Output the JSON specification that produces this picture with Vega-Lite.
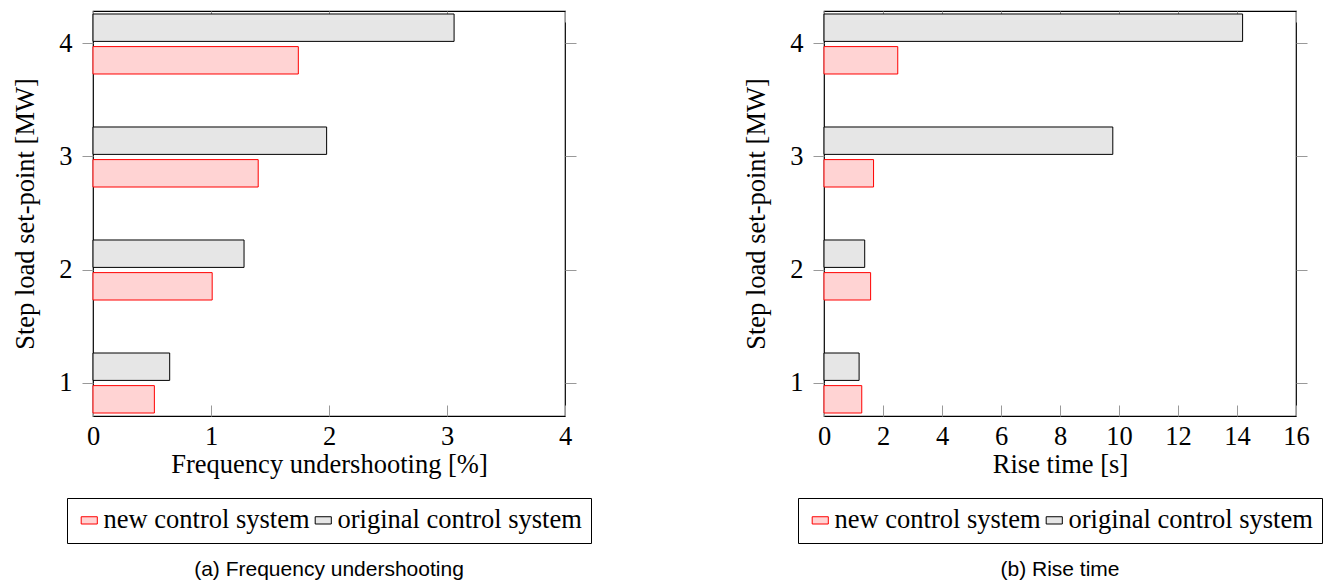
{
  "$schema": "https://vega.github.io/schema/vega-lite/v6.json",
  "padding": {"left": 12, "top": 9, "right": 5, "bottom": 0},
  "bounds": "flush",
  "spacing": 259,
  "datasets": {
    "freq": [
      {"step": 1, "system": "new control system", "value": 0.52},
      {"step": 1, "system": "original control system", "value": 0.65},
      {"step": 2, "system": "new control system", "value": 1.01},
      {"step": 2, "system": "original control system", "value": 1.28},
      {"step": 3, "system": "new control system", "value": 1.40},
      {"step": 3, "system": "original control system", "value": 1.98},
      {"step": 4, "system": "new control system", "value": 1.74},
      {"step": 4, "system": "original control system", "value": 3.06}
    ],
    "rise": [
      {"step": 1, "system": "new control system", "value": 1.28},
      {"step": 1, "system": "original control system", "value": 1.19},
      {"step": 2, "system": "new control system", "value": 1.58},
      {"step": 2, "system": "original control system", "value": 1.38},
      {"step": 3, "system": "new control system", "value": 1.68},
      {"step": 3, "system": "original control system", "value": 9.79},
      {"step": 4, "system": "new control system", "value": 2.50},
      {"step": 4, "system": "original control system", "value": 14.19}
    ]
  },
  "hconcat": [
    {
      "width": 472,
      "height": 405,
      "data": {"name": "freq"},
      "title": {"text": "(a)  Frequency undershooting"},
      "layer": [
        {
          "transform": [{"filter": "datum.system === 'original control system'"}],
          "mark": {"type": "bar", "strokeWidth": 1},
          "encoding": {
            "y": {"field": "step", "type": "ordinal", "sort": "descending", "scale": {"paddingInner": 0.469, "paddingOuter": 0.0265}, "axis": {"orient": "left", "title": "Step load set-point [MW]", "tickSize": 11, "labelPadding": 10, "titlePadding": 19}},
            "yOffset": {"field": "system", "type": "nominal", "scale": {"domain": ["original control system", "new control system"], "paddingInner": 0.16}},
            "x": {"field": "value", "type": "quantitative", "scale": {"domain": [0, 4], "nice": false}, "axis": {"orient": "bottom", "title": "Frequency undershooting [%]", "values": [0, 1, 2, 3, 4], "tickSize": -11, "labelPadding": 18, "titlePadding": 2, "labelFlush": false}},
            "fill": {"field": "system", "type": "nominal", "scale": {"domain": ["new control system", "original control system"], "range": ["#ffd3d3", "#e6e6e6"]}, "legend": {"legendX": -26, "legendY": 487}},
            "stroke": {"field": "system", "type": "nominal", "scale": {"domain": ["new control system", "original control system"], "range": ["#ff0000", "#000000"]}, "legend": {"legendX": -26, "legendY": 487}}
          }
        },
        {
          "transform": [{"filter": "datum.system === 'new control system'"}],
          "mark": {"type": "bar", "strokeWidth": 1},
          "encoding": {
            "y": {"field": "step", "type": "ordinal", "sort": "descending", "scale": {"paddingInner": 0.469, "paddingOuter": 0.0265}, "axis": {"orient": "right", "title": null, "labels": false, "tickSize": 11}},
            "yOffset": {"field": "system", "type": "nominal", "scale": {"domain": ["original control system", "new control system"], "paddingInner": 0.16}},
            "x": {"field": "value", "type": "quantitative", "scale": {"domain": [0, 4], "nice": false}, "axis": {"orient": "top", "title": null, "labels": false, "values": [0, 1, 2, 3, 4], "tickSize": -11}},
            "fill": {"field": "system", "type": "nominal", "scale": {"domain": ["new control system", "original control system"], "range": ["#ffd3d3", "#e6e6e6"]}, "legend": {"legendX": -26, "legendY": 487}},
            "stroke": {"field": "system", "type": "nominal", "scale": {"domain": ["new control system", "original control system"], "range": ["#ff0000", "#000000"]}, "legend": {"legendX": -26, "legendY": 487}}
          }
        }
      ],
      "resolve": {"axis": {"x": "independent", "y": "independent"}}
    },
    {
      "width": 472,
      "height": 405,
      "data": {"name": "rise"},
      "title": {"text": "(b)  Rise time"},
      "layer": [
        {
          "transform": [{"filter": "datum.system === 'original control system'"}],
          "mark": {"type": "bar", "strokeWidth": 1},
          "encoding": {
            "y": {"field": "step", "type": "ordinal", "sort": "descending", "scale": {"paddingInner": 0.469, "paddingOuter": 0.0265}, "axis": {"orient": "left", "title": "Step load set-point [MW]", "tickSize": 11, "labelPadding": 10, "titlePadding": 19}},
            "yOffset": {"field": "system", "type": "nominal", "scale": {"domain": ["original control system", "new control system"], "paddingInner": 0.16}},
            "x": {"field": "value", "type": "quantitative", "scale": {"domain": [0, 16], "nice": false}, "axis": {"orient": "bottom", "title": "Rise time [s]", "values": [0, 2, 4, 6, 8, 10, 12, 14, 16], "tickSize": -11, "labelPadding": 18, "titlePadding": 2, "labelFlush": false}},
            "fill": {"field": "system", "type": "nominal", "scale": {"domain": ["new control system", "original control system"], "range": ["#ffd3d3", "#e6e6e6"]}, "legend": {"legendX": -26, "legendY": 487}},
            "stroke": {"field": "system", "type": "nominal", "scale": {"domain": ["new control system", "original control system"], "range": ["#ff0000", "#000000"]}, "legend": {"legendX": -26, "legendY": 487}}
          }
        },
        {
          "transform": [{"filter": "datum.system === 'new control system'"}],
          "mark": {"type": "bar", "strokeWidth": 1},
          "encoding": {
            "y": {"field": "step", "type": "ordinal", "sort": "descending", "scale": {"paddingInner": 0.469, "paddingOuter": 0.0265}, "axis": {"orient": "right", "title": null, "labels": false, "tickSize": 11}},
            "yOffset": {"field": "system", "type": "nominal", "scale": {"domain": ["original control system", "new control system"], "paddingInner": 0.16}},
            "x": {"field": "value", "type": "quantitative", "scale": {"domain": [0, 16], "nice": false}, "axis": {"orient": "top", "title": null, "labels": false, "values": [0, 2, 4, 6, 8, 10, 12, 14, 16], "tickSize": -11}},
            "fill": {"field": "system", "type": "nominal", "scale": {"domain": ["new control system", "original control system"], "range": ["#ffd3d3", "#e6e6e6"]}, "legend": {"legendX": -26, "legendY": 487}},
            "stroke": {"field": "system", "type": "nominal", "scale": {"domain": ["new control system", "original control system"], "range": ["#ff0000", "#000000"]}, "legend": {"legendX": -26, "legendY": 487}}
          }
        }
      ],
      "resolve": {"axis": {"x": "independent", "y": "independent"}}
    }
  ],
  "resolve": {"scale": {"fill": "independent", "stroke": "independent"}, "legend": {"fill": "independent", "stroke": "independent"}},
  "config": {
    "view": {"stroke": "#000000", "strokeWidth": 1.2},
    "axis": {"domain": false, "grid": false, "tickColor": "#999999", "tickWidth": 1, "labelFont": "Liberation Serif", "labelFontSize": 26.5, "labelColor": "#000000", "titleFont": "Liberation Serif", "titleFontSize": 26.5, "titleFontWeight": "normal", "titleColor": "#000000"},
    "legend": {"orient": "none", "direction": "horizontal", "title": null, "strokeColor": "#000000", "padding": 9, "labelFont": "Liberation Serif", "labelFontSize": 26.5, "labelColor": "#000000", "symbolType": "M-1,-0.45H1V0.45H-1Z", "symbolSize": 260, "symbolStrokeWidth": 1, "columnPadding": 0, "labelOffset": 1, "columns": 2, "labelLimit": 400},
    "title": {"orient": "bottom", "anchor": "middle", "font": "Liberation Sans", "fontSize": 21, "fontWeight": "normal", "color": "#000000", "offset": 15}
  }
}
